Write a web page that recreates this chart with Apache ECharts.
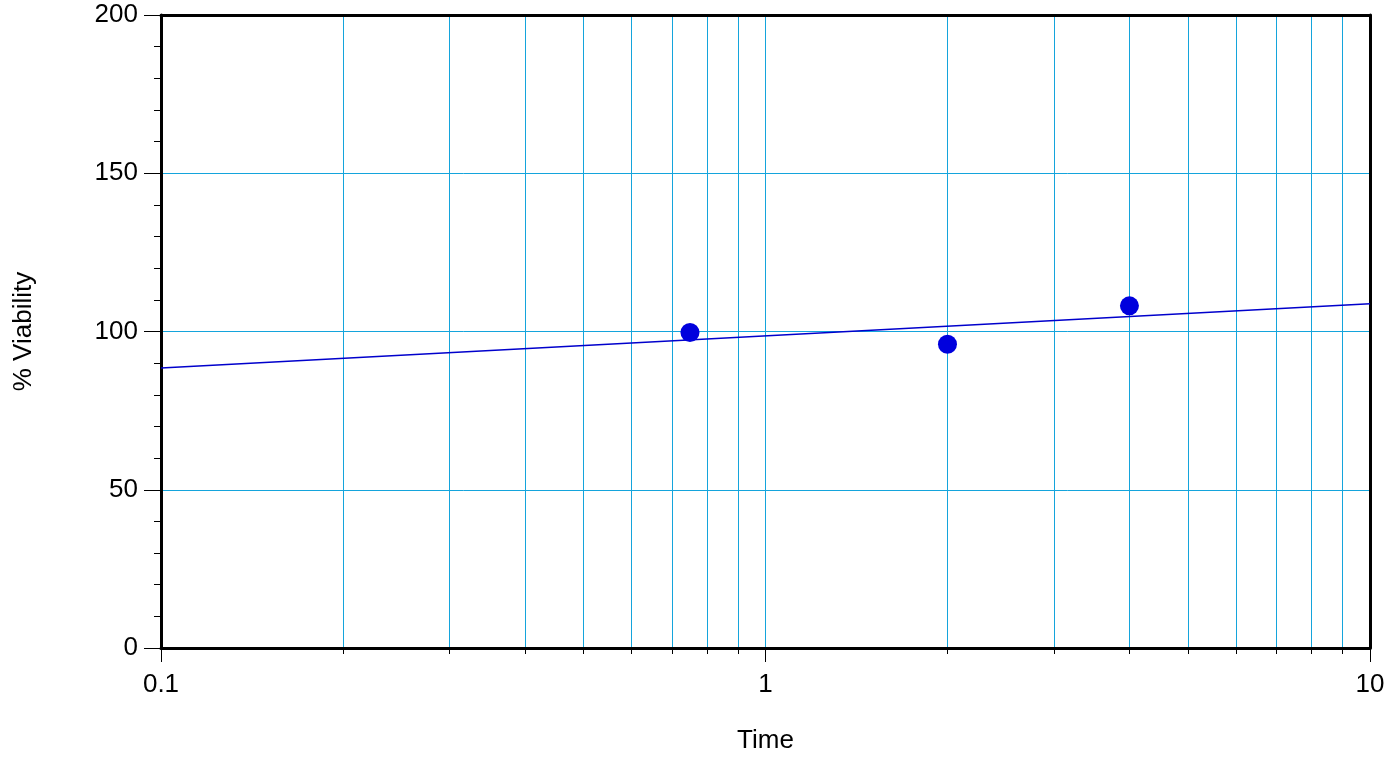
<!DOCTYPE html>
<html>
<head>
<meta charset="utf-8">
<script src="https://cdn.jsdelivr.net/npm/echarts@6/dist/echarts.min.js"></script>
<style>html,body{margin:0;padding:0;background:#fff;}#c{width:1398px;height:759px;}</style>
</head>
<body>
<div id="c"></div>
<script>
// Data
var pointTimes = [0.75, 2, 4];
var pointViability = [99.7, 96.0, 108.1];
var fitTimes = [0.1, 10];
var fitViability = [88.5, 108.8];
var xMajorTicks = [0.1, 1, 10];
var xMinorTicks = [0.1, 0.2, 0.3, 0.4, 0.5, 0.6, 0.7, 0.8, 0.9, 1, 2, 3, 4, 5, 6, 7, 8, 9, 10];

var points = pointTimes.map(function (t, i) { return [t, pointViability[i]]; });
var fit = fitTimes.map(function (t, i) { return [t, fitViability[i]]; });

var font = 'Arial, "Liberation Sans", sans-serif';
var gridColor = '#14a4dc';
var frame = { show: true, lineStyle: { color: '#000', width: 3 } };

var chart = echarts.init(document.getElementById('c'), null, { renderer: 'canvas' });
chart.setOption({
  animation: false,
  backgroundColor: '#fff',
  grid: { left: 161, right: 28, top: 15, bottom: 111, show: false },
  xAxis: [{
    type: 'log', logBase: 10, min: 0.1, max: 10, position: 'bottom',
    axisLine: frame,
    axisTick: { show: true, inside: false, length: 6, customValues: xMinorTicks, lineStyle: { color: '#000', width: 1 } },
    axisLabel: { show: false },
    splitLine: { show: true, lineStyle: { color: gridColor, width: 1 } },
    minorTick: { show: false }, minorSplitLine: { show: false }
  }, {
    type: 'log', logBase: 10, min: 0.1, max: 10, position: 'bottom', offset: 0,
    name: 'Time', nameLocation: 'middle', nameGap: 80,
    nameTextStyle: { fontFamily: font, fontSize: 26, color: '#000' },
    axisLine: { show: false },
    axisTick: { show: true, length: 14, customValues: xMajorTicks, lineStyle: { color: '#000', width: 1 } },
    axisLabel: { show: true, customValues: xMajorTicks, margin: 24, fontFamily: font, fontSize: 26, color: '#000',
      formatter: function (v) { return String(v); } },
    splitLine: { show: false }
  }, {
    type: 'log', logBase: 10, min: 0.1, max: 10, position: 'top', offset: 0,
    axisLine: frame, axisTick: { show: false }, axisLabel: { show: false }, splitLine: { show: false }
  }],
  yAxis: [{
    type: 'value', min: 0, max: 200, interval: 50, position: 'left',
    name: '% Viability', nameLocation: 'middle', nameGap: 124,
    nameTextStyle: { fontFamily: font, fontSize: 26, color: '#000' },
    axisLine: frame,
    axisTick: { show: true, length: 17, lineStyle: { color: '#000', width: 1 } },
    minorTick: { show: true, splitNumber: 5, length: 7, lineStyle: { color: '#000', width: 1 } },
    axisLabel: { margin: 23, fontFamily: font, fontSize: 26, color: '#000' },
    splitLine: { show: true, lineStyle: { color: gridColor, width: 1 } }
  }, {
    type: 'value', min: 0, max: 200, interval: 50, position: 'right', offset: 0,
    axisLine: frame, axisTick: { show: false }, axisLabel: { show: false }, splitLine: { show: false }
  }],
  series: [{
    type: 'line', data: fit, xAxisIndex: 0, yAxisIndex: 0, showSymbol: false, symbol: 'none',
    lineStyle: { color: '#0000cc', width: 1.5 }, z: 3
  }, {
    type: 'scatter', data: points, xAxisIndex: 0, yAxisIndex: 0, symbol: 'circle', symbolSize: 19,
    itemStyle: { color: '#0000dd', opacity: 1 }, z: 4
  }]
});
</script>
</body>
</html>
